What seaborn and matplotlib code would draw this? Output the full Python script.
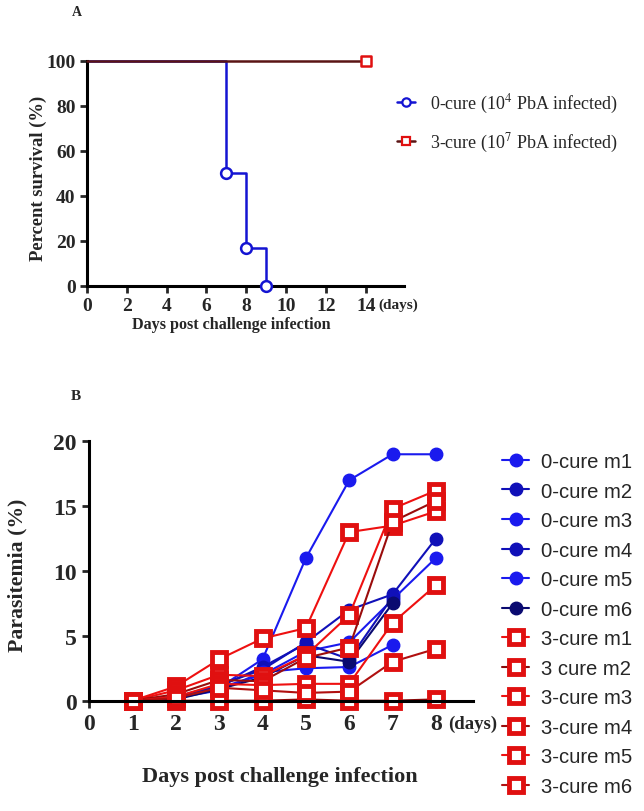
import numpy as np
import pandas as pd
import matplotlib
matplotlib.use("Agg")
import matplotlib.pyplot as plt
import seaborn as sns
from matplotlib.lines import Line2D

sns.set_style("ticks")
plt.rcParams["font.family"] = ["Liberation Serif", "DejaVu Serif"]
plt.rcParams["mathtext.fontset"] = "stix"

# ---------------- Data: panel A (survival) ----------------
surv_days_0 = [0, 7, 8, 9]
surv_pct_0 = [100, 50, 16.7, 0]
surv_days_3 = [0, 14]
surv_pct_3 = [100, 100]
surv_label_0 = r"0-cure (10$^{4}$ PbA infected)"
surv_label_3 = r"3-cure (10$^{7}$ PbA infected)"
a_xticks = [0, 2, 4, 6, 8, 10, 12, 14]
a_yticks = [0, 20, 40, 60, 80, 100]

# ---------------- Data: panel B (parasitemia) ----------------
days = [1, 2, 3, 4, 5, 6, 7, 8]
cure0_m1 = [0, 0.2, 1.0, 3.2, 11.0, 17.0, 19.0, 19.0]
cure0_m2 = [0, 0.3, 1.2, 2.4, 4.5, 7.0, 8.2, 12.5]
cure0_m3 = [0, 0.2, 1.0, 2.0, 3.8, 4.5, 7.8, 11.0]
cure0_m4 = [0, 0.3, 1.1, 2.6, 4.4, 3.2, 8.0, np.nan]
cure0_m5 = [0, 0.2, 0.8, 2.2, 2.5, 2.6, 4.3, np.nan]
cure0_m6 = [0, 0.1, 0.9, 1.8, 3.5, 3.0, 7.5, np.nan]
cure3_m1 = [0, 1.1, 3.2, 4.8, 5.6, 13.0, 13.5, 14.6]
cure3_m2 = [0, 0.0, 0.0, 0.0, 0.1, 0.0, 0.0, 0.1]
cure3_m3 = [0, 0.8, 2.0, 1.9, 3.5, 6.6, 14.8, 16.2]
cure3_m4 = [0, 0.5, 1.6, 1.5, 3.3, 4.1, 13.8, 15.4]
cure3_m5 = [0, 0.3, 1.3, 1.2, 1.3, 1.3, 6.0, 8.9]
cure3_m6 = [0, 0.2, 1.0, 0.8, 0.6, 0.7, 3.0, 4.0]

b_labels = ["0-cure m1", "0-cure m2", "0-cure m3", "0-cure m4", "0-cure m5", "0-cure m6",
            "3-cure m1", "3 cure m2", "3-cure m3", "3-cure m4", "3-cure m5", "3-cure m6"]
b_series = [cure0_m1, cure0_m2, cure0_m3, cure0_m4, cure0_m5, cure0_m6,
            cure3_m1, cure3_m2, cure3_m3, cure3_m4, cure3_m5, cure3_m6]
b_xticks = [0, 1, 2, 3, 4, 5, 6, 7, 8]
b_yticks = [0, 5, 10, 15, 20]

# ---------------- Styles ----------------
blue_a = "#1414d2"
maroon_a = "#5a1414"
red_sq = "#e01010"
b_colors = ["#1a1aee", "#1010b8", "#1a1aee", "#1010b8", "#1a1aee", "#0a0a70",
            "#ee1010", "#8a0a0a", "#ee1010", "#9a0c0c", "#ee1010", "#b01010"]

W, H = 644, 812
fig = plt.figure(figsize=(W / 100, H / 100), dpi=100)

def fx(px):
    return px / W

def fy(py):
    return 1 - py / H

# ---------------- Panel A ----------------
axA = fig.add_axes([fx(86.7), fy(286.7), fx(404) - fx(86.7), fy(61.7) - fy(286.7)])
dfA0 = pd.DataFrame({"day": surv_days_0, "pct": surv_pct_0})
dfA3 = pd.DataFrame({"day": surv_days_3, "pct": surv_pct_3})
sns.lineplot(data=dfA3, x="day", y="pct", ax=axA, color=maroon_a, lw=1.8,
             drawstyle="steps-post", clip_on=False, zorder=3)
sns.lineplot(data=dfA0, x="day", y="pct", ax=axA, color=blue_a, lw=1.8,
             drawstyle="steps-post", clip_on=False, zorder=2)
sns.scatterplot(data=dfA0.iloc[1:], x="day", y="pct", ax=axA, marker="o", s=60,
                facecolor="white", edgecolor=blue_a, linewidth=1.8, clip_on=False, zorder=5)
sns.scatterplot(data=dfA3.iloc[1:], x="day", y="pct", ax=axA, marker="s", s=55,
                facecolor="white", edgecolor=red_sq, linewidth=1.8, clip_on=False, zorder=5)
axA.set_xlim(0, 15.9)
axA.set_ylim(0, 100)
axA.set_xticks(a_xticks)
axA.set_yticks(a_yticks)
axA.set_xlabel("")
axA.set_ylabel("")
for s in ["top", "right"]:
    axA.spines[s].set_visible(False)
for s in ["left", "bottom"]:
    axA.spines[s].set_linewidth(2.2)
    axA.spines[s].set_color("black")
axA.tick_params(width=2, length=5, labelsize=14, pad=3)
for lab in axA.get_xticklabels() + axA.get_yticklabels():
    lab.set_fontweight("bold")

fig.text(fx(77), fy(13), "A", fontsize=10, fontweight="bold", ha="center", va="center")
fig.text(fx(378), fy(305), "(days)", fontsize=11, fontweight="bold", ha="left", va="center")
fig.text(fx(231), fy(325), "Days post challenge infection", fontsize=11.6,
         fontweight="bold", ha="center", va="center")
fig.text(fx(38), fy(178), "Percent survival (%)", fontsize=13.4, fontweight="bold",
         rotation=90, ha="center", va="center")

hA = [Line2D([], [], color=blue_a, lw=1.8, marker="o", mfc="white", mec=blue_a, mew=1.6, ms=6),
      Line2D([], [], color=maroon_a, lw=1.8, marker="s", mfc="white", mec=red_sq, mew=1.6, ms=6)]
fig.legend(hA, [surv_label_0, surv_label_3], loc="upper left",
           bbox_to_anchor=(fx(397), fy(93)), frameon=False, fontsize=13,
           handlelength=1.0, handletextpad=0.8, labelspacing=0.85, borderpad=0,
           borderaxespad=0)

# ---------------- Panel B ----------------
axB = fig.add_axes([fx(89.3), fy(701.7), fx(472.7) - fx(89.3), fy(442.3) - fy(701.7)])
for lab, vals, col in zip(b_labels, b_series, b_colors):
    df = pd.DataFrame({"day": days, "val": vals})
    if lab.startswith("0"):
        mk = dict(marker="o", ms=9, mfc=col, mec=col, mew=1)
    else:
        mk = dict(marker="s", ms=10, mfc="white", mec=red_sq, mew=3.5)
    sns.lineplot(data=df, x="day", y="val", ax=axB, color=col, lw=1.5,
                 clip_on=False, label=lab, **mk)
axB.set_xlim(0, 8.85)
axB.set_ylim(0, 20)
axB.set_xticks(b_xticks)
axB.set_yticks(b_yticks)
axB.set_xlabel("")
axB.set_ylabel("")
for s in ["top", "right"]:
    axB.spines[s].set_visible(False)
for s in ["left", "bottom"]:
    axB.spines[s].set_linewidth(2.2)
    axB.spines[s].set_color("black")
axB.tick_params(width=2, length=5, labelsize=17, pad=4)
for lab in axB.get_xticklabels() + axB.get_yticklabels():
    lab.set_fontweight("bold")

hB, lB = axB.get_legend_handles_labels()
axB.get_legend().remove()
fig.legend(hB, lB, loc="upper left", bbox_to_anchor=(fx(502), fy(453)), frameon=False,
           prop={"family": ["Liberation Sans", "DejaVu Sans"], "size": 14.6},
           handlelength=1.35, handletextpad=0.55, labelspacing=0.52, borderpad=0,
           borderaxespad=0)

fig.text(fx(76), fy(397), "B", fontsize=11, fontweight="bold", ha="center", va="center")
fig.text(fx(448), fy(724), "(days)", fontsize=13.5, fontweight="bold", ha="left", va="center")
fig.text(fx(280), fy(777), "Days post challenge infection", fontsize=16,
         fontweight="bold", ha="center", va="center")
fig.text(fx(17), fy(575), "Parasitemia (%)", fontsize=15.7, fontweight="bold",
         rotation=90, ha="center", va="center")

fig.savefig("out.png", dpi=100)
